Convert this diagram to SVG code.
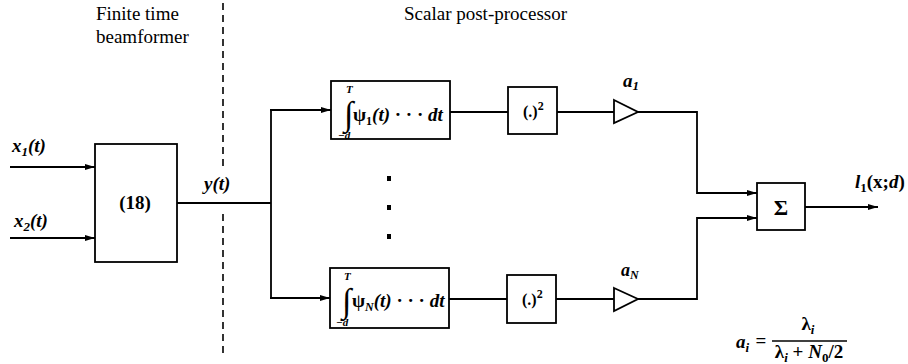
<svg xmlns="http://www.w3.org/2000/svg" width="908" height="364" viewBox="0 0 908 364">
<style>
  .box{fill:#fff;stroke:#000;stroke-width:1.8}
  .ln{fill:none;stroke:#000;stroke-width:1.8}
  .t{font-family:"Liberation Serif","Times New Roman","DejaVu Serif",serif;fill:#000}
  .it{font-style:italic;font-weight:bold}
  .dash{fill:none;stroke:#000;stroke-width:1.6;stroke-dasharray:7 5}
</style>
<defs>
  <marker id="arr" viewBox="0 0 10 6" refX="10" refY="3" markerWidth="10" markerHeight="6" markerUnits="userSpaceOnUse" orient="auto">
    <path d="M0,0 L10,3 L0,6 z" fill="#000"/>
  </marker>
</defs>
<rect width="908" height="364" fill="#fff"/>

<g id="headers">
  <text class="t" x="96" y="20" font-size="19">Finite time</text>
  <text class="t" x="96" y="43" font-size="19">beamformer</text>
  <text class="t" x="404" y="20" font-size="19">Scalar post-processor</text>
  <line class="dash" x1="223" y1="3" x2="223" y2="167"/>
  <line class="dash" x1="223" y1="214" x2="223" y2="356"/>
</g>

<g id="connectors">
  <line class="ln" x1="10" y1="167" x2="95" y2="167" marker-end="url(#arr)"/>
  <line class="ln" x1="10" y1="238" x2="95" y2="238" marker-end="url(#arr)"/>
  <line class="ln" x1="177" y1="203" x2="271" y2="203"/>
  <line class="ln" x1="271" y1="110" x2="271" y2="298"/>
  <line class="ln" x1="270" y1="110" x2="331" y2="110" marker-end="url(#arr)"/>
  <line class="ln" x1="270" y1="298" x2="330" y2="298" marker-end="url(#arr)"/>
  <line class="ln" x1="450" y1="112" x2="508" y2="112"/>
  <line class="ln" x1="557" y1="112" x2="614" y2="112"/>
  <line class="ln" x1="449" y1="299" x2="507" y2="299"/>
  <line class="ln" x1="556" y1="299" x2="614" y2="299"/>
  <polyline class="ln" points="638,112 697,112 697,193 757,193" marker-end="url(#arr)"/>
  <polyline class="ln" points="638,299 697,299 697,218 757,218" marker-end="url(#arr)"/>
  <line class="ln" x1="805" y1="207" x2="878" y2="207" marker-end="url(#arr)"/>
</g>

<g id="inputs">
  <text class="t it" x="12" y="152" font-size="19">x<tspan font-size="13" dy="4">1</tspan><tspan dy="-4">(t)</tspan></text>
  <text class="t it" x="14" y="227" font-size="19">x<tspan font-size="13" dy="4">2</tspan><tspan dy="-4">(t)</tspan></text>
</g>

<g id="beamformer">
  <rect class="box" x="95" y="144" width="82" height="118"/>
  <text class="t" x="135" y="209" font-size="19" font-weight="bold" text-anchor="middle">(18)</text>
</g>

<g id="ylabel">
  <text class="t it" x="204" y="190" font-size="19">y(t)</text>
</g>

<g id="integrator1">
  <rect class="box" x="331" y="81" width="119" height="58"/>
  <text class="t it" x="346" y="93" font-size="11">T</text>
  <text class="t" x="344" y="125" font-size="34">∫</text>
  <text class="t it" x="338" y="139" font-size="11">−d</text>
  <text class="t" x="353" y="121" font-size="19" font-weight="bold">ψ<tspan font-size="12" dy="4">1</tspan><tspan dy="-4" font-style="italic">(t)</tspan> · · · <tspan font-style="italic">dt</tspan></text>
</g>

<g id="dots">
  <rect x="387" y="176" width="4" height="5" fill="#000"/>
  <rect x="387" y="205" width="4" height="5" fill="#000"/>
  <rect x="387" y="234" width="4" height="5" fill="#000"/>
</g>

<g id="integratorN">
  <rect class="box" x="330" y="268" width="119" height="60"/>
  <text class="t it" x="344" y="280" font-size="11">T</text>
  <text class="t" x="342" y="312" font-size="34">∫</text>
  <text class="t it" x="336" y="326" font-size="11">−d</text>
  <text class="t" x="352" y="307" font-size="19" font-weight="bold">ψ<tspan font-size="12" dy="4" font-style="italic">N</tspan><tspan dy="-4" font-style="italic">(t)</tspan> · · · <tspan font-style="italic">dt</tspan></text>
</g>

<g id="square1">
  <rect class="box" x="508" y="87" width="49" height="47"/>
  <text class="t" x="523" y="117" font-size="16" font-weight="bold">(.)<tspan font-size="12" dy="-7">2</tspan></text>
</g>

<g id="squareN">
  <rect class="box" x="507" y="275" width="49" height="48"/>
  <text class="t" x="522" y="305" font-size="16" font-weight="bold">(.)<tspan font-size="12" dy="-7">2</tspan></text>
</g>

<g id="gain1">
  <polygon class="ln" points="614,100 638,112 614,123"/>
  <text class="t it" x="623" y="87" font-size="19">a<tspan font-size="13" dy="3">1</tspan></text>
</g>

<g id="gainN">
  <polygon class="ln" points="614,288 638,299 614,311"/>
  <text class="t it" x="621" y="276" font-size="18">a<tspan font-size="12" dy="3">N</tspan></text>
</g>

<g id="sum">
  <rect class="box" x="757" y="183" width="48" height="47"/>
  <text class="t" x="781" y="215" font-size="22" font-weight="bold" text-anchor="middle">Σ</text>
</g>

<g id="output">
  <text class="t" x="855" y="188" font-size="19" font-weight="bold"><tspan font-style="italic">l</tspan><tspan font-size="13" dy="4">1</tspan><tspan dy="-4">(x;</tspan><tspan font-style="italic">d</tspan>)</text>
</g>

<g id="formula">
  <text class="t it" x="736" y="348" font-size="19">a<tspan font-size="13" dy="4">i</tspan></text>
  <text class="t" x="761" y="347" font-size="19" font-weight="bold" text-anchor="middle">=</text>
  <line x1="772" y1="341" x2="847" y2="341" stroke="#000" stroke-width="1.5"/>
  <text class="t" x="808" y="330" font-size="19" font-weight="bold" text-anchor="middle">λ<tspan font-size="13" dy="4" font-style="italic">i</tspan></text>
  <text class="t" x="809" y="358" font-size="19" font-weight="bold" text-anchor="middle">λ<tspan font-size="13" dy="4" font-style="italic">i</tspan><tspan dy="-4"> + </tspan><tspan font-style="italic">N</tspan><tspan font-size="13" dy="4">0</tspan><tspan dy="-4">/2</tspan></text>
</g>
</svg>
